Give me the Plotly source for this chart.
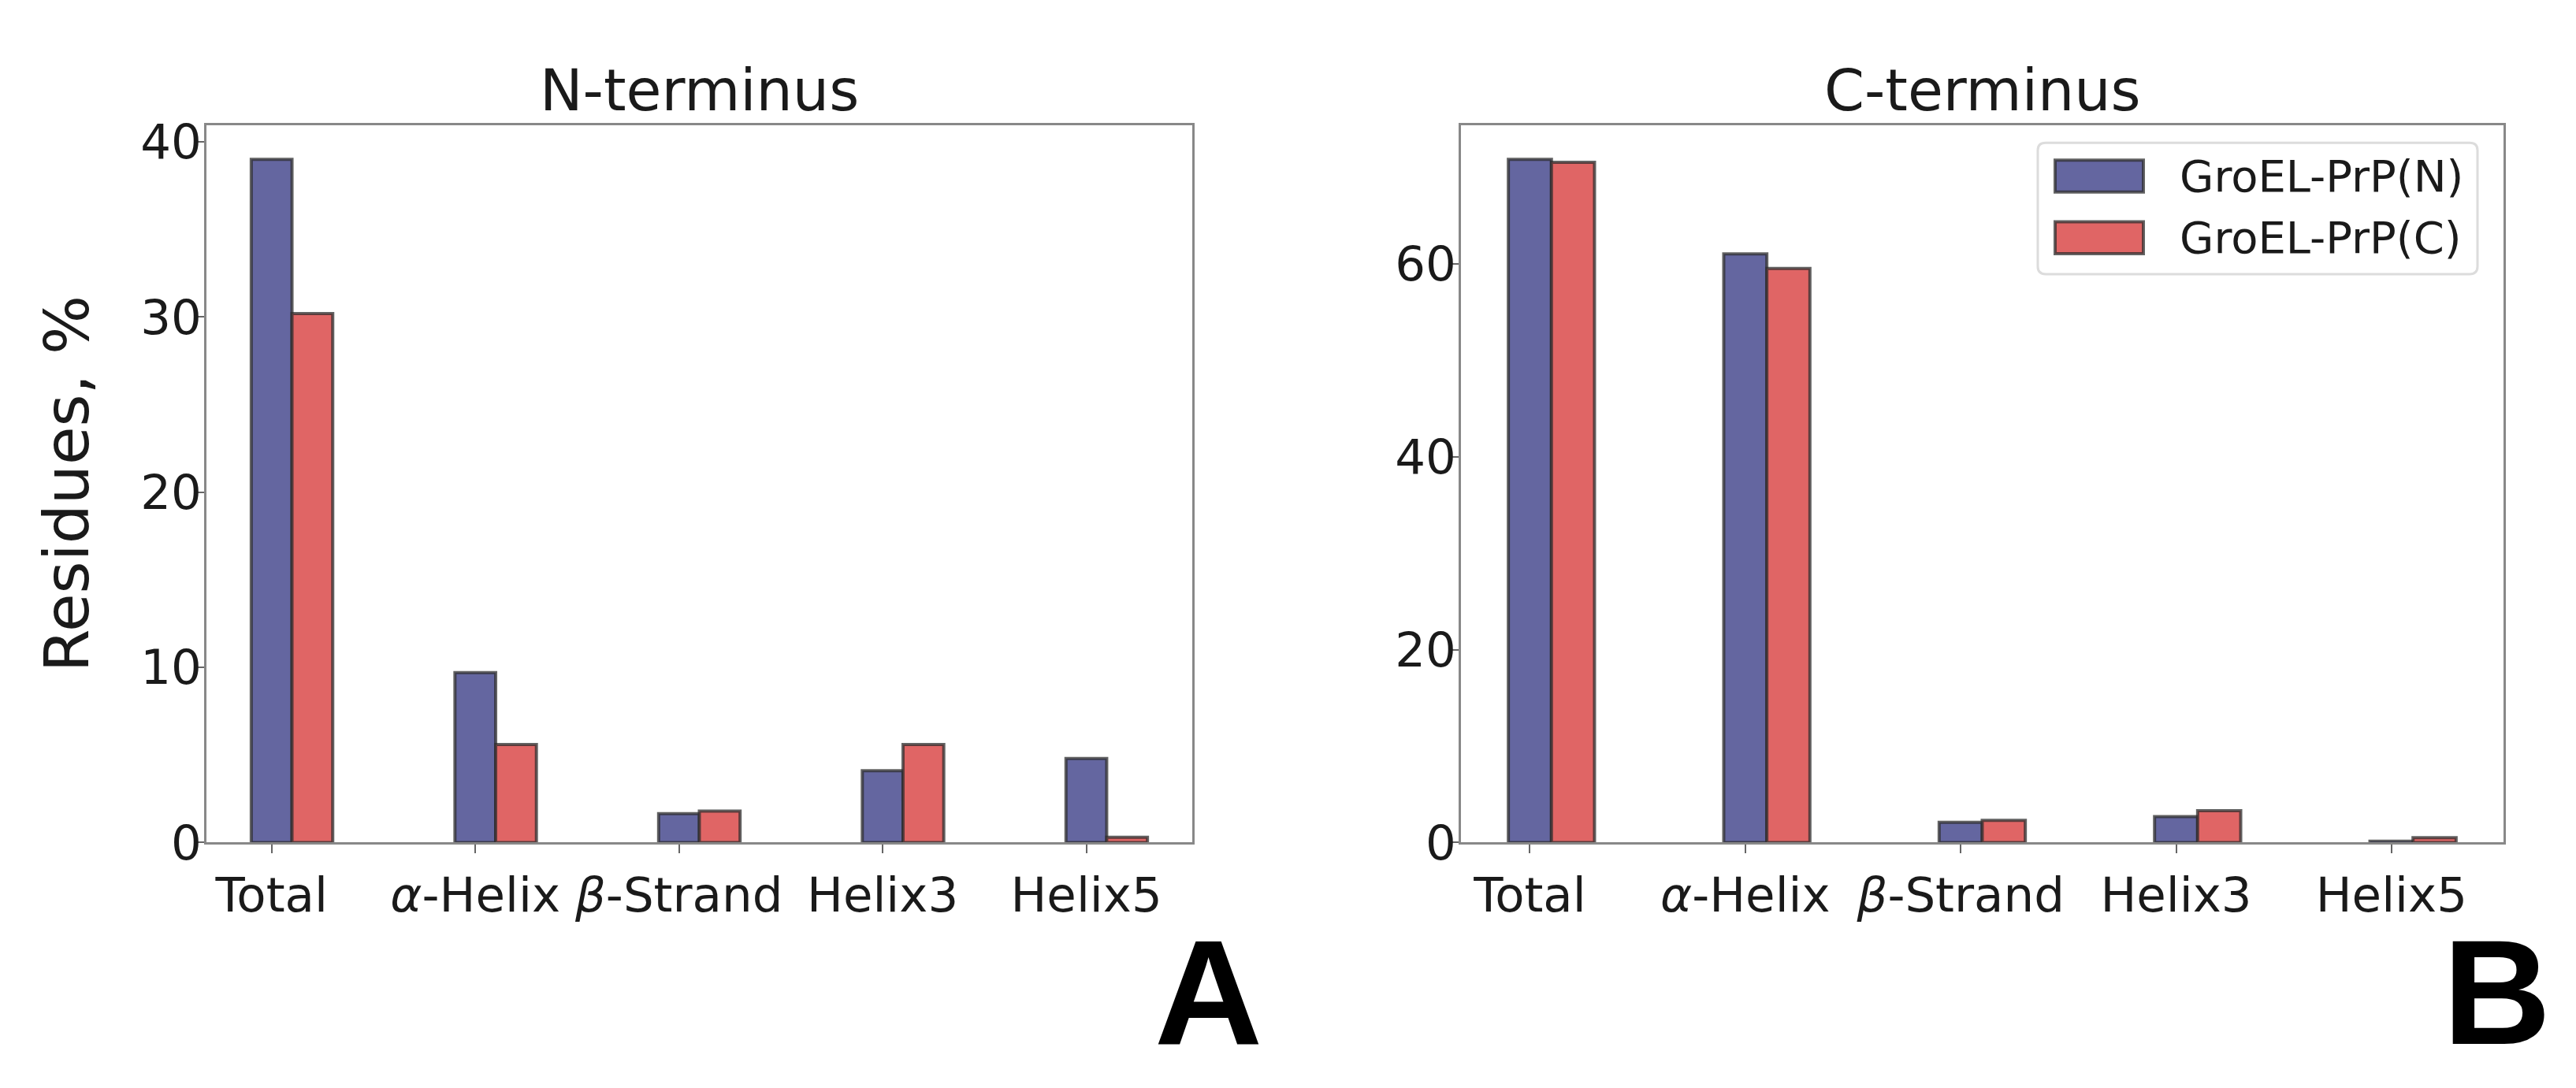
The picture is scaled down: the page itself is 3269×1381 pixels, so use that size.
import plotly.graph_objects as go

categories = ["Total", "<i>α</i>-Helix", "<i>β</i>-Strand", "Helix3", "Helix5"]
series_names = ["GroEL-PrP(N)", "GroEL-PrP(C)"]
n_term_N = [39.0, 9.7, 1.65, 4.1, 4.8]
n_term_C = [30.2, 5.6, 1.8, 5.6, 0.3]
c_term_N = [70.8, 61.0, 2.1, 2.7, 0.15]
c_term_C = [70.5, 59.5, 2.3, 3.3, 0.5]
panel_titles = ["N-terminus", "C-terminus"]
panel_letters = ["A", "B"]
y_ticks_left = [0, 10, 20, 30, 40]
y_ticks_right = [0, 20, 40, 60]

W, H = 3269, 1381
blue = "#6466A0"
red = "#E06565"
edge = "rgba(45,45,45,0.75)"
colors = [blue, red]
bw = 0.2
idx = list(range(len(categories)))

fig = go.Figure()
panels = [(n_term_N, n_term_C, "x", "y"), (c_term_N, c_term_C, "x2", "y2")]
for p, (vN, vC, xa, ya) in enumerate(panels):
    fig.add_trace(go.Bar(x=idx, y=vN, width=bw, marker=dict(color=blue, line=dict(color=edge, width=4)),
                         name=series_names[0], xaxis=xa, yaxis=ya, showlegend=False))
    fig.add_trace(go.Bar(x=[i + bw for i in idx], y=vC, width=bw,
                         marker=dict(color=red, line=dict(color=edge, width=4)),
                         name=series_names[1], xaxis=xa, yaxis=ya, showlegend=False))

font_fam = "DejaVu Sans"
txt = "#1a1a1a"
axis_common = dict(showline=True, linecolor="#888888", linewidth=3, mirror=True, ticks="outside",
                   ticklen=11, tickwidth=2, tickcolor="#666666", showgrid=False, zeroline=False,
                   tickfont=dict(family=font_fam, size=61, color=txt))

xdom1 = [254 / W, 1505 / W]
xdom2 = [1846 / W, 3169 / W]
ydom = [1 - 1086 / H, 1 - 142 / H]

fig.update_layout(
    width=W, height=H, margin=dict(l=0, r=0, t=0, b=0),
    paper_bgcolor="white", plot_bgcolor="white", barmode="overlay", showlegend=False,
    font=dict(family=font_fam, color=txt),
    xaxis=dict(domain=xdom1, anchor="y", range=[-0.32, 4.52], tickvals=idx, ticktext=categories, **axis_common),
    yaxis=dict(domain=ydom, anchor="x", range=[0, max(n_term_N) * 1.05], tickvals=y_ticks_left,
               ticklabelstandoff=-20,
               title=dict(text="Residues, %", font=dict(family=font_fam, size=79, color=txt), standoff=40),
               **axis_common),
    xaxis2=dict(domain=xdom2, anchor="y2", range=[-0.32, 4.52], tickvals=idx, ticktext=categories, **axis_common),
    yaxis2=dict(domain=ydom, anchor="x2", range=[0, max(c_term_N) * 1.05], tickvals=y_ticks_right,
                ticklabelstandoff=-20, **axis_common),
)

annotations = []
for k, dom in enumerate([xdom1, xdom2]):
    annotations.append(dict(text=panel_titles[k], x=(dom[0] + dom[1]) / 2, y=1 - 96 / H, xref="paper", yref="paper",
                            xanchor="center", yanchor="middle", showarrow=False,
                            font=dict(family=font_fam, size=73, color=txt)))
annotations.append(dict(text="<b>A</b>", x=1525 / W, y=1 - 1282 / H, xref="paper", yref="paper",
                        xanchor="center", yanchor="middle", showarrow=False,
                        font=dict(family="Liberation Sans", size=190, color="black")))
annotations.append(dict(text="<b>B</b>", x=3160 / W, y=1 - 1282 / H, xref="paper", yref="paper",
                        xanchor="center", yanchor="middle", showarrow=False,
                        font=dict(family="Liberation Sans", size=190, color="black")))

# manual legend (matplotlib-style) inside right panel
shapes = []
lx0, lx1, ly0, ly1, r = 2578, 3136, 165, 338, 10
def px(x):
    return x / W
def py(y):
    return 1 - y / H
path = (f"M {px(lx0 + r)},{py(ly0)} L {px(lx1 - r)},{py(ly0)} Q {px(lx1)},{py(ly0)} {px(lx1)},{py(ly0 + r)} "
        f"L {px(lx1)},{py(ly1 - r)} Q {px(lx1)},{py(ly1)} {px(lx1 - r)},{py(ly1)} "
        f"L {px(lx0 + r)},{py(ly1)} Q {px(lx0)},{py(ly1)} {px(lx0)},{py(ly1 - r)} "
        f"L {px(lx0)},{py(ly0 + r)} Q {px(lx0)},{py(ly0)} {px(lx0 + r)},{py(ly0)} Z")
shapes.append(dict(type="path", xref="paper", yref="paper", path=path, fillcolor="rgba(255,255,255,0.85)",
                   line=dict(color="#dcdcdc", width=3), layer="above"))
item_y = [209, 290]
for k in range(2):
    cy = item_y[k]
    shapes.append(dict(type="rect", xref="paper", yref="paper", x0=px(2600), x1=px(2712),
                       y0=py(cy + 21), y1=py(cy - 21), fillcolor=colors[k],
                       line=dict(color=edge, width=4), layer="above"))
    annotations.append(dict(text=series_names[k], x=px(2756), y=py(cy), xref="paper", yref="paper",
                            xanchor="left", yanchor="middle", showarrow=False,
                            font=dict(family=font_fam, size=56, color=txt)))

fig.update_layout(annotations=annotations, shapes=shapes)

fig.write_html("out.html")
